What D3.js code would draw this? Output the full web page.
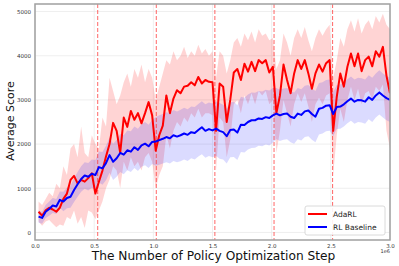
<!DOCTYPE html>
<html>
<head>
<meta charset="utf-8">
<script src="https://cdn.jsdelivr.net/npm/d3@7"></script>
<style>
  body { margin: 0; background: #fff; }
  svg { font-family: "DejaVu Sans", sans-serif; }
</style>
</head>
<body>
<div id="chart"></div>
<script>
// policy steps (in units of 1e6)
var steps = d3.range(1, 101).map(function(i) { return +(i * 0.03).toFixed(2); });

// AdaRL mean + shaded band
var adaMean = [470,380,500,560,520,470,560,760,880,1190,1280,1110,1190,1150,1230,1340,880,1150,1400,1720,
  2000,2480,2300,1800,2600,2390,2750,2550,2700,2470,2700,2950,2650,1850,2200,2420,3100,2700,3030,3220,
  3150,3300,3320,3400,3330,3520,3370,3450,3410,3400,2300,3370,3300,2500,3000,3620,3700,3450,3820,3640,
  3860,3650,3900,3830,3900,3620,3750,2700,3100,3800,3450,3150,3600,3900,3700,3900,3600,3250,3600,3800,
  3640,3830,3900,2300,3070,3600,3300,3750,4050,3760,4050,3650,3900,3980,3760,4100,3980,4200,3550,3150];
var adaHi = [700,620,760,900,820,1100,1000,1500,1300,1900,2000,1700,2400,1800,1700,2200,2000,1900,2600,2400,
  3500,3200,2900,3100,3400,3600,3300,3700,3500,3800,3400,3700,3500,3000,3300,3600,3900,3800,4100,3900,
  4000,4200,3950,4100,4000,4250,4050,4150,4000,4100,3500,4100,4000,3600,3900,4300,4400,4200,4500,4350,
  4550,4300,4600,4450,4500,4350,4400,3700,3900,4500,4300,4000,4400,4600,4400,4650,4350,4100,4400,4600,
  4450,4600,4700,3500,3900,4400,4200,4600,4800,4550,4850,4500,4700,4800,4600,4900,4750,4950,4700,4600];
var adaLo = [250,150,250,280,200,120,180,150,350,300,500,200,350,100,500,450,300,500,700,1000,
  1200,1500,1400,1000,1600,1400,1700,1500,1600,1400,1700,1800,1600,1000,1300,1500,2200,1900,2300,2500,
  2400,2600,2500,2700,2600,2800,2600,2700,2700,2650,1400,2600,2500,1700,2100,2900,3000,2700,3100,2900,
  3150,2900,3200,3100,3200,2900,3000,1800,2300,3000,2700,2400,2900,3150,2950,3150,2850,2500,2900,3050,
  2900,3100,3150,1300,2200,2800,2500,3000,3300,3000,3250,2900,3150,3200,3000,3300,3200,3350,2300,1900];

// RL Baseline mean + shaded band
var baseMean = [360,330,470,530,610,590,740,700,780,810,960,1090,1210,1290,1260,1330,1300,1480,1450,1570,
  1750,1600,1680,1800,1760,1860,1830,1930,1870,1970,2010,1950,2050,2060,2090,2120,2160,2130,2200,2170,
  2200,2240,2210,2270,2250,2320,2380,2300,2340,2310,2350,2300,2270,2180,2320,2330,2260,2440,2430,2500,
  2540,2540,2580,2570,2610,2590,2650,2690,2650,2680,2690,2620,2590,2690,2660,2740,2760,2680,2620,2800,
  2820,2870,2880,2680,2840,2850,2900,2970,3030,2960,3000,2990,2960,3060,3000,3100,3170,3100,3040,3000];
var baseHi = [500,470,620,700,780,760,930,920,1010,1060,1230,1370,1500,1590,1570,1650,1640,1830,1820,1960,
  2150,2010,2100,2230,2200,2310,2290,2400,2350,2450,2500,2440,2550,2610,2650,2680,2720,2700,2770,2740,
  2780,2820,2790,2850,2840,2910,2970,2900,2940,2920,2970,2930,2890,2800,2940,2960,2880,3070,3050,3120,
  3170,3160,3200,3190,3230,3210,3270,3270,3230,3260,3270,3200,3170,3270,3240,3320,3340,3260,3200,3380,
  3400,3450,3460,3180,3340,3350,3400,3470,3530,3460,3500,3490,3460,3560,3500,3600,3670,3600,3540,3500];
var baseLo = [220,200,330,380,440,420,560,480,550,560,690,810,920,990,950,1010,960,1130,1080,1180,
  1350,1190,1260,1370,1320,1410,1370,1460,1390,1490,1520,1460,1550,1510,1530,1560,1590,1560,1620,1590,
  1610,1650,1620,1680,1650,1720,1770,1690,1730,1700,1730,1670,1650,1560,1700,1710,1640,1820,1810,1880,
  1910,1920,1960,1950,1990,1970,2030,2110,2070,2100,2110,2040,2010,2110,2080,2160,2180,2100,2040,2220,
  2240,2290,2300,2180,2340,2350,2400,2470,2530,2460,2500,2490,2460,2560,2500,2600,2670,2600,2540,2500];

// dashed markers (1e6)
var markers = [0.53, 1.025, 1.52, 2.02, 2.515];
var xTicks = [0, 0.5, 1.0, 1.5, 2.0, 2.5, 3.0];
var yTicks = [0, 1000, 2000, 3000, 4000, 5000];

var svgWidth = 399;
var svgHeight = 266;
var margin = { top: 4, right: 9, bottom: 26, left: 35 };
var width = svgWidth - margin.left - margin.right;
var height = svgHeight - margin.top - margin.bottom;

var svg = d3.select("#chart").append("svg")
  .attr("width", svgWidth)
  .attr("height", svgHeight);

var g = svg.append("g")
  .attr("transform", `translate(${margin.left}, ${margin.top})`);

var x = d3.scaleLinear().domain([0, 3.0]).range([0, width]);
var y = d3.scaleLinear().domain([-170, 5170]).range([height, 0]);

// grid
g.append("g").selectAll("line").data(yTicks).join("line")
  .attr("x1", 0).attr("x2", width)
  .attr("y1", d => y(d)).attr("y2", d => y(d))
  .attr("stroke", "#ebebeb").attr("stroke-width", 0.8);
g.append("g").selectAll("line").data(xTicks).join("line")
  .attr("y1", 0).attr("y2", height)
  .attr("x1", d => x(d)).attr("x2", d => x(d))
  .attr("stroke", "#ebebeb").attr("stroke-width", 0.8);

var rows = steps.map(function(s, i) {
  return { s: s, am: adaMean[i], ah: adaHi[i], al: adaLo[i], bm: baseMean[i], bh: baseHi[i], bl: baseLo[i] };
});

svg.append("defs").append("clipPath").attr("id", "clip")
  .append("rect").attr("width", width).attr("height", height);

var plot = g.append("g").attr("clip-path", "url(#clip)");

plot.append("path").datum(rows)
  .attr("fill", "#ff0000").attr("fill-opacity", 0.17)
  .attr("d", d3.area().x(d => x(d.s)).y0(d => y(d.al)).y1(d => y(d.ah)));

plot.append("path").datum(rows)
  .attr("fill", "#0000ff").attr("fill-opacity", 0.14)
  .attr("d", d3.area().x(d => x(d.s)).y0(d => y(d.bl)).y1(d => y(d.bh)));

plot.selectAll(".marker").data(markers).join("line")
  .attr("class", "marker")
  .attr("x1", d => x(d)).attr("x2", d => x(d))
  .attr("y1", 0).attr("y2", height)
  .attr("stroke", "#ff3333").attr("stroke-opacity", 0.75)
  .attr("stroke-width", 1).attr("stroke-dasharray", "4,2");

plot.append("path").datum(rows)
  .attr("fill", "none").attr("stroke", "#ff0000").attr("stroke-width", 2)
  .attr("stroke-linejoin", "round")
  .attr("d", d3.line().x(d => x(d.s)).y(d => y(d.am)));

plot.append("path").datum(rows)
  .attr("fill", "none").attr("stroke", "#0000ff").attr("stroke-width", 2)
  .attr("stroke-linejoin", "round")
  .attr("d", d3.line().x(d => x(d.s)).y(d => y(d.bm)));

// axes
var bottomAxis = d3.axisBottom(x).tickValues(xTicks).tickSize(0).tickPadding(4)
  .tickFormat(d3.format(".1f"));
var leftAxis = d3.axisLeft(y).tickValues(yTicks).tickSize(0).tickPadding(4)
  .tickFormat(d3.format("d"));

var xAxis = g.append("g").attr("transform", `translate(0, ${height})`).call(bottomAxis);
var yAxis = g.append("g").call(leftAxis);
[xAxis, yAxis].forEach(function(a) {
  a.select(".domain").remove();
  a.selectAll("text").attr("font-size", 5.5).attr("fill", "#333").attr("font-family", "DejaVu Sans");
});

// frame
g.append("rect").attr("width", width).attr("height", height)
  .attr("fill", "none").attr("stroke", "#a0a0a0").attr("stroke-width", 1.5);

svg.append("text")
  .attr("x", margin.left + width).attr("y", 253)
  .attr("text-anchor", "end").attr("font-size", 5).attr("fill", "#333")
  .text("1e6");

svg.append("text")
  .attr("x", margin.left + width / 2 + 1).attr("y", 260)
  .attr("text-anchor", "middle").attr("font-size", 12.2).attr("fill", "#111")
  .text("The Number of Policy Optimization Step");

svg.append("text")
  .attr("transform", `translate(14, ${margin.top + height / 2 - 1}) rotate(-90)`)
  .attr("text-anchor", "middle").attr("font-size", 11).attr("fill", "#111")
  .text("Average Score");

// legend
var legend = svg.append("g").attr("transform", "translate(305, 206)");
legend.append("rect").attr("width", 80).attr("height", 29).attr("rx", 2)
  .attr("fill", "#fff").attr("fill-opacity", 0.9).attr("stroke", "#d0d0d0").attr("stroke-width", 0.8);
var items = [["AdaRL", "#ff0000"], ["RL Baseline", "#0000ff"]];
items.forEach(function(it, i) {
  var yy = 8 + i * 13;
  legend.append("line").attr("x1", 3).attr("x2", 22).attr("y1", yy).attr("y2", yy)
    .attr("stroke", it[1]).attr("stroke-width", 2);
  legend.append("text").attr("x", 28).attr("y", yy + 2.5)
    .attr("font-size", 7.5).attr("fill", "#222").text(it[0]);
});
</script>
</body>
</html>
